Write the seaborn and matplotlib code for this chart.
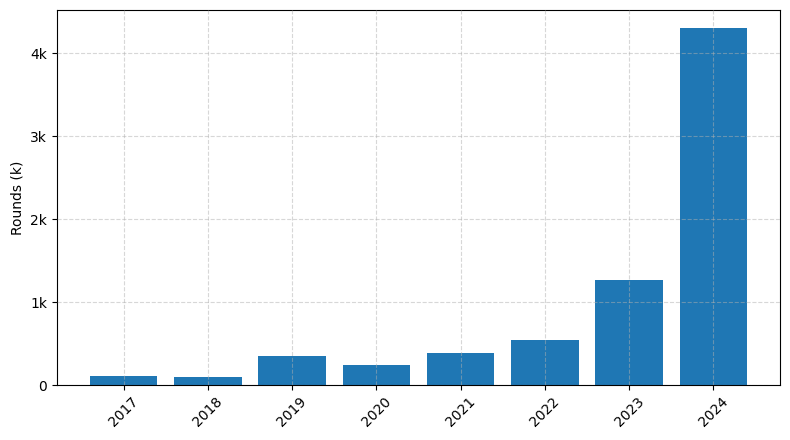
import matplotlib
matplotlib.use("Agg")
import matplotlib.pyplot as plt
import seaborn as sns
import pandas as pd
from matplotlib.ticker import FuncFormatter

years = ["2017", "2018", "2019", "2020", "2021", "2022", "2023", "2024"]
rounds = [112, 97, 350, 242, 387, 544, 1270, 4306]

df = pd.DataFrame({"year": years, "rounds": rounds})

fig, ax = plt.subplots(figsize=(7.9, 4.4), dpi=100)
sns.barplot(data=df, x="year", y="rounds", color="#1f77b4", saturation=1,
            width=0.8, ax=ax)
ax.set_xlim(-0.79, len(years) - 1 + 0.79)
ax.set_xlabel("")
ax.set_ylabel("Rounds (k)")
ax.yaxis.set_major_formatter(FuncFormatter(lambda v, p: "0" if v == 0 else f"{v/1000:.0f}k"))
ax.tick_params(axis="x", rotation=45)
ax.grid(True, linestyle="--", alpha=0.5)
ax.set_axisbelow(False)
fig.subplots_adjust(left=57/790, right=780/790, top=1-10/440, bottom=1-385/440)
fig.savefig("out.png", dpi=100)
